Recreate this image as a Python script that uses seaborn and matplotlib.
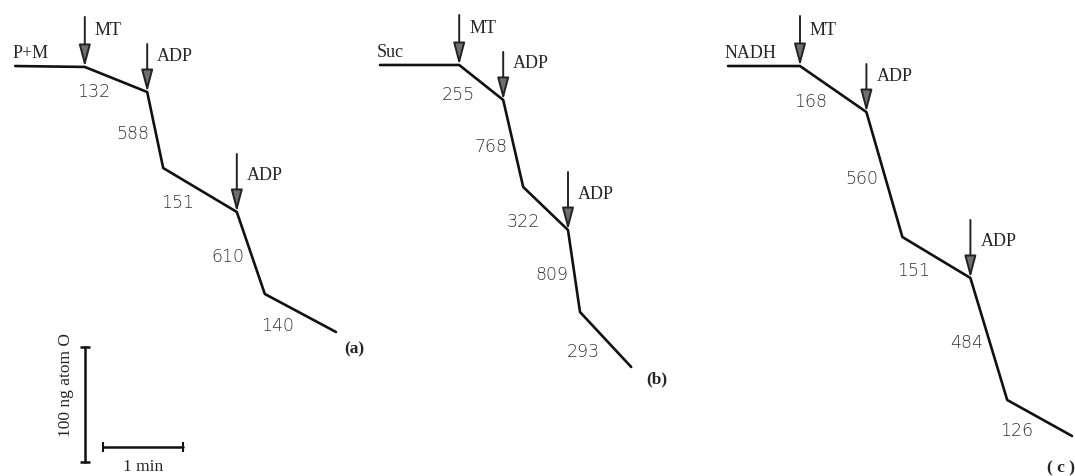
import pandas as pd
import seaborn as sns
import matplotlib.pyplot as plt

# oxygen electrode traces, x in min, y in ng atom O (arbitrary zero)
panels = ["(a)", "(b)", "( c )"]
substrates = ["P+M", "Suc", "NADH"]

time_a = [0.19, 1.06, 1.84, 2.04, 2.96, 3.31, 4.20]
oxy_a = [356.5, 355.7, 333.9, 267.8, 229.6, 158.3, 125.2]
rates_a = [132, 588, 151, 610, 140]

time_b = [4.75, 5.74, 6.29, 6.54, 7.10, 7.25, 7.89]
oxy_b = [357.4, 357.4, 327.0, 251.3, 213.9, 142.6, 94.8]
rates_b = [255, 768, 322, 809, 293]

time_c = [9.10, 10.00, 10.83, 11.28, 12.13, 12.59, 13.40]
oxy_c = [356.5, 356.5, 316.5, 207.8, 172.2, 66.1, 34.8]
rates_c = [168, 560, 151, 484, 126]

# additions: index of the trace point where each one was made
additions = ["MT", "ADP", "ADP"]
addition_idx = [1, 2, 4]

times = [time_a, time_b, time_c]
oxys = [oxy_a, oxy_b, oxy_c]
rates = [rates_a, rates_b, rates_c]

sns.set_style("white")
plt.rcParams["font.family"] = ["Liberation Serif", "DejaVu Serif"]

fig = plt.figure(figsize=(10.75, 4.76), dpi=100)
ax = fig.add_axes([0, 0, 1, 1])
ax.set_xlim(0, 1075 / 80)
ax.set_ylim(0, 476 * 100 / 115)
ax.axis("off")

arrow_len = [50, 48, 58]  # pixels
letter_pos = [(0.330, 0.265), (0.611, 0.202), (0.987, 0.017)]

for i in range(3):
    df = pd.DataFrame({"t": times[i], "o": oxys[i]})
    sns.lineplot(data=df, x="t", y="o", sort=False, color="#111111",
                 linewidth=1.9, ax=ax, legend=False)

    t, o = times[i], oxys[i]
    ax.annotate(substrates[i], xy=(t[0], o[0]), xytext=(-3, 4),
                textcoords="offset pixels", ha="left", va="bottom",
                fontsize=13)

    # rate labels next to each segment
    for k in range(1, len(t) - 1):
        mx = (t[k] + t[k + 1]) / 2
        my = (o[k] + o[k + 1]) / 2
        steep = abs(o[k + 1] - o[k]) / (t[k + 1] - t[k]) > 150
        dy = -4 if steep else -13
        ax.annotate(str(rates[i][k - 1]), xy=(mx, my), xytext=(-6, dy),
                    textcoords="offset pixels", ha="right", va="center",
                    fontsize=12.5, color="#333333", family="DejaVu Sans",
                    fontweight="light")

    # arrows for additions
    for name, idx, L in zip(additions, addition_idx, arrow_len):
        ax.annotate("", xy=(t[idx], o[idx]), xytext=(0, L),
                    textcoords="offset pixels",
                    arrowprops=dict(arrowstyle="-|>,head_length=0.75,head_width=0.2",
                                    lw=1.4, edgecolor="#222222", facecolor="#6e6e6e",
                                    shrinkA=0, shrinkB=0, mutation_scale=18))
        ax.annotate(name, xy=(t[idx], o[idx]), xytext=(10, 36),
                    textcoords="offset pixels", ha="left", va="center",
                    fontsize=13)

    fig.text(letter_pos[i][0], letter_pos[i][1], panels[i], ha="center",
             va="center", fontsize=12.5, fontweight="bold")

# scale bars: 100 ng atom O and 1 min
ax.plot([85 / 80, 85 / 80], [12.2, 112.2], color="#111111", lw=1.8,
        marker="_", markersize=7, markeredgewidth=1.8)
ax.plot([103 / 80, 183 / 80], [25.2, 25.2], color="#111111", lw=1.8,
        marker="|", markersize=7, markeredgewidth=1.5)
fig.text(66 / 1075, 1 - 385 / 476, "100 ng atom O", rotation=90,
         ha="center", va="center", fontsize=12.5)
fig.text(143 / 1075, 1 - 467 / 476, "1 min", ha="center", va="center",
         fontsize=12.5)

fig.savefig("out.png", dpi=100)
